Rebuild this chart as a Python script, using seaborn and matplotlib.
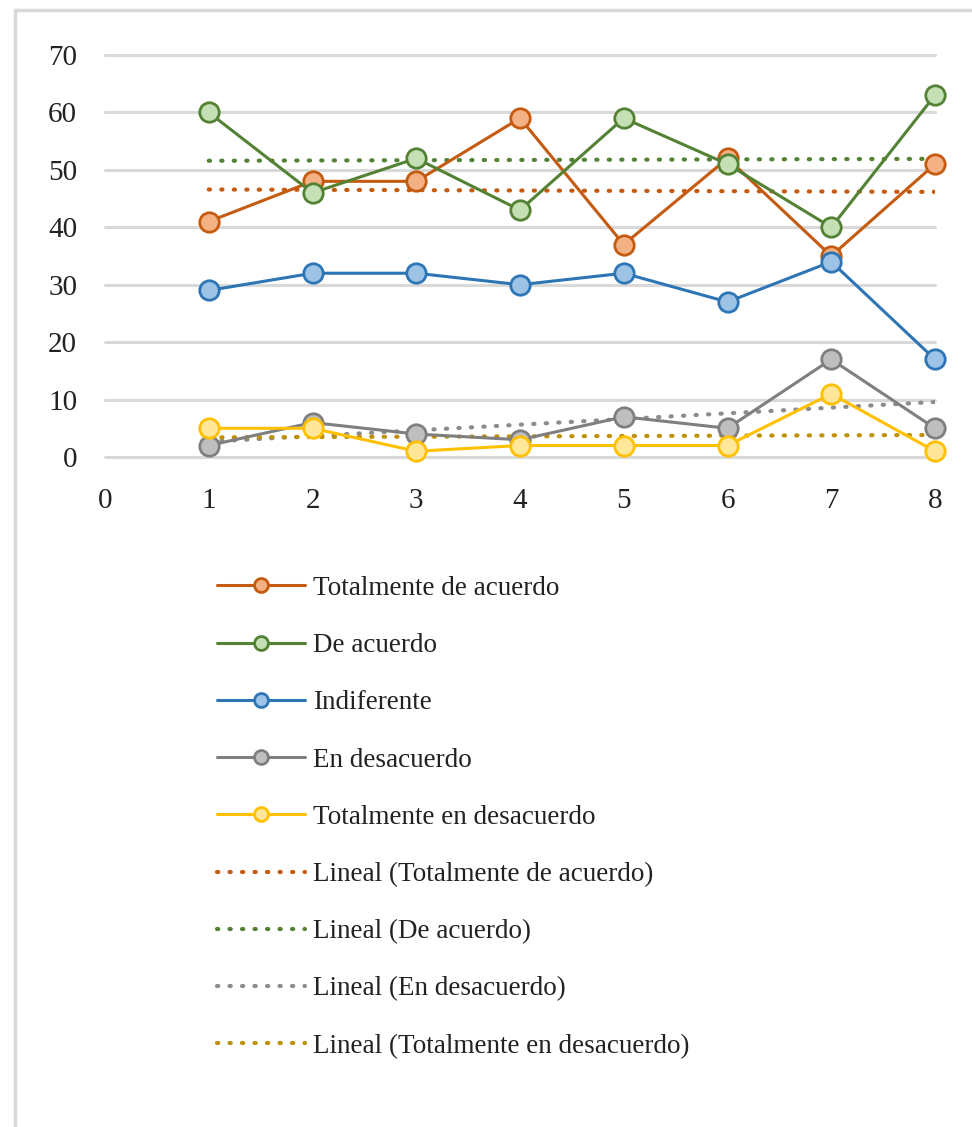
import numpy as np
import pandas as pd
import matplotlib
matplotlib.use("Agg")
import matplotlib.pyplot as plt
from matplotlib.patches import Rectangle
import seaborn as sns

# ---- data ----
x_vals = [1, 2, 3, 4, 5, 6, 7, 8]
totalmente_de_acuerdo = [41, 48, 48, 59, 37, 52, 35, 51]
de_acuerdo = [60, 46, 52, 43, 59, 51, 40, 63]
indiferente = [29, 32, 32, 30, 32, 27, 34, 17]
en_desacuerdo = [2, 6, 4, 3, 7, 5, 17, 5]
totalmente_en_desacuerdo = [5, 5, 1, 2, 2, 2, 11, 1]
series_names = ["Totalmente de acuerdo", "De acuerdo", "Indiferente",
                "En desacuerdo", "Totalmente en desacuerdo"]
series_values = [totalmente_de_acuerdo, de_acuerdo, indiferente,
                 en_desacuerdo, totalmente_en_desacuerdo]
trend_names = ["Totalmente de acuerdo", "De acuerdo", "En desacuerdo",
               "Totalmente en desacuerdo"]
y_ticks = [0, 10, 20, 30, 40, 50, 60, 70]
x_ticks = [0, 1, 2, 3, 4, 5, 6, 7, 8]

# ---- styles ----
line_colors = ["#C55A11", "#548235", "#2E75B6", "#7F7F7F", "#FFC000"]
face_colors = ["#F4B183", "#C5E0B4", "#9DC3E6", "#BFBFBF", "#FFE699"]
trend_colors = {"Totalmente de acuerdo": "#C55A11", "De acuerdo": "#548235",
                "En desacuerdo": "#8C8C8C", "Totalmente en desacuerdo": "#BF9000"}

sns.set_theme(style="white")
plt.rcParams['font.family'] = ['Liberation Serif', 'DejaVu Serif']

fig = plt.figure(figsize=(9.72, 11.27), dpi=100)
ax = fig.add_axes([105/972, 1-457/1127, (935-105)/972, (457-55)/1127])

df = pd.DataFrame({"x": x_vals})
for name, vals in zip(series_names, series_values):
    df[name] = vals

for name, lc, fc in zip(series_names, line_colors, face_colors):
    sns.lineplot(data=df, x="x", y=name, ax=ax, color=lc, linewidth=2.2,
                 marker="o", markersize=14, markerfacecolor=fc,
                 markeredgecolor=lc, markeredgewidth=2, label=name,
                 clip_on=False, zorder=3)

for name in trend_names:
    sns.regplot(data=df, x="x", y=name, ax=ax, scatter=False, ci=None,
                truncate=True, color=trend_colors[name],
                label=f"Lineal ({name})",
                line_kws=dict(linestyle=(0, (0.3, 2.7)), linewidth=3.0,
                              dash_capstyle="round", zorder=2))

ax.set_xlim(0, 8)
ax.set_ylim(0, 70)
ax.set_xticks(x_ticks)
ax.set_yticks(y_ticks)
ax.set_xlabel("")
ax.set_ylabel("")
ax.grid(axis="y", color="#D9D9D9", linewidth=2.2)
ax.grid(axis="x", visible=False)
ax.set_axisbelow(True)
for gl in ax.get_ygridlines():
    gl.set_clip_on(False)
for s in ax.spines.values():
    s.set_visible(False)
ax.tick_params(axis="both", labelsize=21, length=0)
ax.tick_params(axis="y", pad=20)
ax.tick_params(axis="x", pad=22)
for lab in ax.get_xticklabels() + ax.get_yticklabels():
    lab.set_color("#222222")

h, l = ax.get_legend_handles_labels()
if ax.legend_:
    ax.legend_.remove()
leg = fig.legend(h, l, loc="upper left", bbox_to_anchor=(206/972, 1-565/1127),
                 frameon=False, fontsize=19.5, handlelength=3.25, handletextpad=0.3,
                 labelspacing=1.19, borderaxespad=0)
for t in leg.get_texts():
    t.set_color("#222222")
for lh in leg.get_lines():
    lh.set_markersize(10)

fig.patches.append(Rectangle((15/972, -0.05), 1.2, 1-10/1127+0.05,
                             transform=fig.transFigure, fill=False,
                             edgecolor="#D9D9D9", linewidth=2.5))

fig.savefig("out.png", dpi=100)
